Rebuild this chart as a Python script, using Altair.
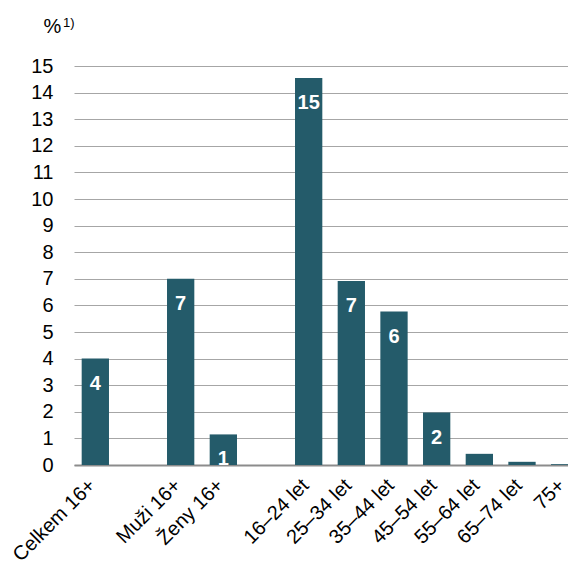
import altair as alt
import pandas as pd

categories = ["Celkem 16+", "Muži 16+", "Ženy 16+", "16–24 let", "25–34 let",
              "35–44 let", "45–54 let", "55–64 let", "65–74 let", "75+"]
values = [4.0, 7.0, 1.15, 14.55, 6.92, 5.77, 1.97, 0.42, 0.12, 0.03]
labels = ["4", "7", "1", "15", "7", "6", "2", "", "", ""]
slot_order = ["Celkem 16+", " ", "Muži 16+", "Ženy 16+", "  ", "16–24 let", "25–34 let",
              "35–44 let", "45–54 let", "55–64 let", "65–74 let", "75+"]

df = pd.DataFrame({"cat": categories, "val": values, "lab": labels})

BAR = "#245b6a"
FONT = "Liberation Sans"

x_enc = alt.X("cat:N", sort=slot_order,
              scale=alt.Scale(domain=slot_order, paddingInner=0.36, paddingOuter=0.18),
              axis=alt.Axis(title=None, labelAngle=-45, labelFontSize=20, labelFont=FONT,
                            labelColor="#000000", ticks=False, labelPadding=17, labelOffset=-3,
                            domainColor="#8c8c8c", domainWidth=2, labelAlign="right",
                            labelBaseline="middle"))
y_enc = alt.Y("val:Q", scale=alt.Scale(domain=[0, 15], nice=False),
              axis=alt.Axis(title="%", titleAngle=0, titleAlign="left", titleBaseline="alphabetic",
                            titleX=-31, titleY=-34, titleFontSize=20, titleFont=FONT,
                            titleFontWeight="normal", titleColor="#000000",
                            values=list(range(0, 16)), labelFontSize=20, labelFont=FONT,
                            labelColor="#000000", ticks=False, domain=False, labelPadding=21,
                            gridColor="#a6a6a6", gridWidth=1.2))

base = alt.Chart(df)
bars = base.mark_bar(color=BAR).encode(x=x_enc, y=y_enc)
text = base.mark_text(color="white", fontWeight="bold", fontSize=20, font=FONT,
                      baseline="middle", dy=25).encode(x=x_enc, y=y_enc, text="lab:N")
sup = alt.Chart(alt.Data(values=[{"t": "1)"}])).mark_text(
    fontSize=13, font=FONT, color="#000000", align="left", baseline="top").encode(
    x=alt.value(-11), y=alt.value(-49), text="t:N")

chart = alt.layer(bars, text, sup).properties(
    width=512, height=399,
    autosize=alt.AutoSizeParams(type="none"),
    padding={"left": 66, "top": 58, "right": -18, "bottom": 102},
).configure_view(stroke=None).configure_axis(labelFont=FONT)

chart.save("out.html", embed_options={"renderer": "svg", "actions": False})
